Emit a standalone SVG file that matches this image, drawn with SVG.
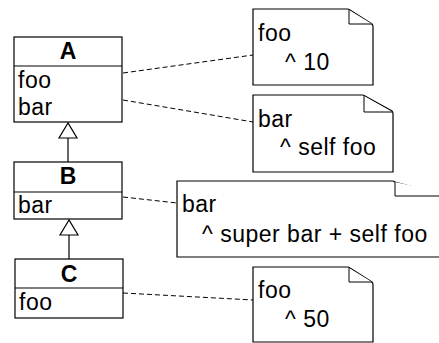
<svg xmlns="http://www.w3.org/2000/svg" width="439" height="343" viewBox="0 0 439 343">
<style>
.box{fill:#fff;stroke:#000;stroke-width:1.2}
.ln{stroke:#000;stroke-width:1.2;fill:none}
.dash{stroke:#000;stroke-width:1;stroke-dasharray:5,3;fill:none}
.t{font-family:"Liberation Sans",Arial,sans-serif;font-size:23px;letter-spacing:0.5px;fill:#000}
.b{font-weight:bold;text-anchor:middle;letter-spacing:0}
.note{fill:#fff;stroke:#000;stroke-width:1.2}
.fold{fill:#fff;stroke:#000;stroke-width:1}
</style>
<g id="connectors">
<line class="dash" x1="123" y1="73" x2="253" y2="55"/>
<line class="dash" x1="123" y1="100" x2="253" y2="122"/>
<line class="dash" x1="123" y1="197" x2="177" y2="203"/>
<line class="dash" x1="123" y1="293" x2="253" y2="300"/>
<line class="ln" x1="68" y1="138" x2="68" y2="162"/>
<polygon class="box" points="68,123 59,138 77,138"/>
<line class="ln" x1="69" y1="235" x2="69" y2="259"/>
<polygon class="box" points="69,220 60,235 78,235"/>
</g>
<g id="A">
<rect class="box" x="14" y="37" width="108" height="85"/>
<line class="ln" x1="14" y1="66" x2="122" y2="66"/>
<text class="t b" x="68" y="59">A</text>
<text class="t" x="18" y="88">foo</text>
<text class="t" x="18" y="115">bar</text>
</g>
<g id="B">
<rect class="box" x="14" y="162" width="108" height="57"/>
<line class="ln" x1="14" y1="192" x2="122" y2="192"/>
<text class="t b" x="68" y="184">B</text>
<text class="t" x="18" y="213">bar</text>
</g>
<g id="C">
<rect class="box" x="15" y="259" width="108" height="59"/>
<line class="ln" x1="15" y1="288" x2="123" y2="288"/>
<text class="t b" x="69" y="282">C</text>
<text class="t" x="19" y="310">foo</text>
</g>
<g id="note1">
<path class="note" d="M253,9 L347,9 Q349,9 350,10 L372,24 Q373,25 373,27 L373,85 L253,85 Z"/>
<path class="fold" d="M349,10 L349,24 L372,24"/>
<text class="t" x="258" y="41">foo</text>
<text class="t" x="285" y="70">^ 10</text>
</g>
<g id="note2">
<path class="note" d="M253,95 L362,95 Q364,95 365,96 L392,111 Q393,112 393,114 L393,172 L253,172 Z"/>
<path class="fold" d="M364,96 L364,112 L392,112"/>
<text class="t" x="258" y="127">bar</text>
<text class="t" x="280" y="155">^ self foo</text>
</g>
<g id="note3">
<path class="note" d="M177,181 L392,181 Q394,181 395,182 L460,200 L460,257 L177,257 Z"/>
<path class="fold" d="M395,182 L395,196 L460,196"/>
<text class="t" x="182" y="212">bar</text>
<text class="t" x="202" y="242">^ super bar + self foo</text>
</g>
<g id="note4">
<path class="note" d="M253,267 L347,267 Q349,267 350,268 L372,282 Q373,283 373,285 L373,342 L253,342 Z"/>
<path class="fold" d="M349,268 L349,282 L372,282"/>
<text class="t" x="258" y="298">foo</text>
<text class="t" x="285" y="327">^ 50</text>
</g>
</svg>
